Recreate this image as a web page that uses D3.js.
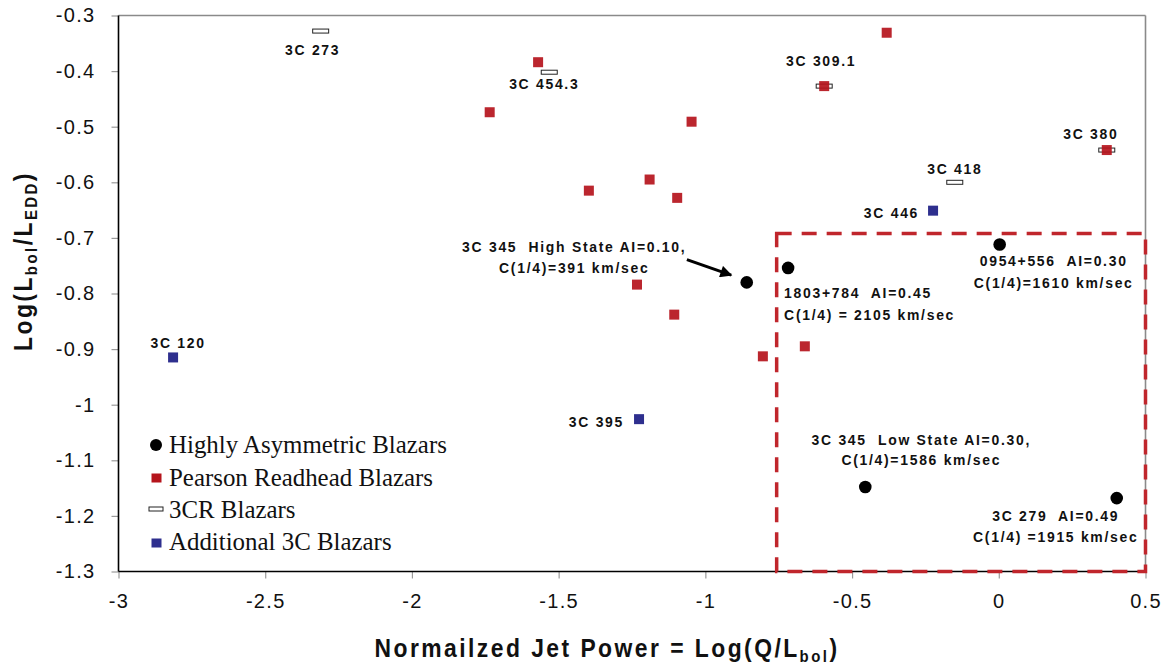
<!DOCTYPE html>
<html>
<head>
<meta charset="utf-8">
<script src="https://cdn.jsdelivr.net/npm/d3@7"></script>
<style>
  body { margin: 0; background: #fff; }
  svg { display: block; }
  text { white-space: pre; }
</style>
</head>
<body>
<svg id="chart" width="1166" height="666"></svg>
<script>
// ---------------- DATA ----------------
const xTicks = [-3, -2.5, -2, -1.5, -1, -0.5, 0, 0.5];
const xTickLabels = ["-3", "-2.5", "-2", "-1.5", "-1", "-0.5", "0", "0.5"];
const yTicks = [-0.3, -0.4, -0.5, -0.6, -0.7, -0.8, -0.9, -1, -1.1, -1.2, -1.3];
const yTickLabels = ["-0.3", "-0.4", "-0.5", "-0.6", "-0.7", "-0.8", "-0.9", "-1", "-1.1", "-1.2", "-1.3"];

// Highly Asymmetric Blazars
const haNames = ["3C 345 High", "1803+784", "0954+556", "3C 345 Low", "3C 279"];
const haX = [-0.859, -0.718, 0.003, -0.455, 0.402];
const haY = [-0.780, -0.754, -0.712, -1.148, -1.168];
const haText = [
  ["3C 345  High State AI=0.10,", "C(1/4)=391 km/sec"],
  ["1803+784  AI=0.45", "C(1/4) = 2105 km/sec"],
  ["0954+556  AI=0.30", "C(1/4)=1610 km/sec"],
  ["3C 345  Low State AI=0.30,", "C(1/4)=1586 km/sec"],
  ["3C 279  AI=0.49", "C(1/4) =1915 km/sec"]
];

// Pearson Readhead Blazars
const prX = [-0.382, -1.570, -1.735, -1.047, -1.397, -1.190, -1.096, -0.595, 0.368, -1.233, -1.106, -0.804, -0.661];
const prY = [-0.331, -0.384, -0.474, -0.491, -0.615, -0.595, -0.628, -0.427, -0.542, -0.784, -0.838, -0.913, -0.895];

// 3CR Blazars
const crNames = ["3C 273", "3C 454.3", "3C 309.1", "3C 380", "3C 418"];
const crX = [-2.311, -1.532, -0.595, 0.368, -0.150];
const crY = [-0.328, -0.402, -0.427, -0.542, -0.600];

// Additional 3C Blazars
const adNames = ["3C 120", "3C 395", "3C 446"];
const adX = [-2.814, -1.226, -0.224];
const adY = [-0.915, -1.026, -0.651];

// Highlighted region (data units)
const boxX = [-0.757, 0.5];
const boxY = [-0.692, -1.3];

// Arrow (data units) pointing at 3C 345 High State
const arrowX = [-1.063, -0.912];
const arrowY = [-0.739, -0.767];

const legendLabels = ["Highly Asymmetric Blazars", "Pearson Readhead Blazars", "3CR Blazars", "Additional 3C Blazars"];

// ---------------- LAYOUT ----------------
const RED = "#b5141c", BLUE = "#2e2f8e", BOXRED = "#c0262c";
const svg = d3.select("#chart");
const x = d3.scaleLinear().domain([-3, 0.5]).range([118.5, 1145.5]);
const y = d3.scaleLinear().domain([-1.3, -0.3]).range([571.5, 15.5]);

const tickFont = "'Liberation Sans', Arial, sans-serif";
const labFont = "'Liberation Sans', Arial, sans-serif";
const NARROW = 0.9;

// axes
const gx = svg.append("g").attr("transform", `translate(0,${y(-1.3)})`)
  .call(d3.axisBottom(x).tickValues(xTicks).tickSize(7).tickSizeOuter(0).tickPadding(15)
    .tickFormat((d, i) => xTickLabels[i]));
const gy = svg.append("g").attr("transform", `translate(${x(-3)},0)`)
  .call(d3.axisLeft(y).tickValues(yTicks).tickSize(7).tickSizeOuter(0).tickPadding(16)
    .tickFormat((d, i) => yTickLabels[i]));
[gx, gy].forEach(g => {
  g.select(".domain").remove();
  g.selectAll(".tick line").attr("stroke", "#9a9a9a").attr("stroke-width", 1.2);
  g.selectAll(".tick text").attr("fill", "#111").style("font-family", tickFont)
    .style("font-size", "20px").style("letter-spacing", "1.3px");
});

// frame
svg.append("line").attr("x1", x(-3)).attr("x2", x(0.5)).attr("y1", y(-0.3)).attr("y2", y(-0.3))
  .attr("stroke", "#8a8a8a").attr("stroke-width", 1.6);
svg.append("line").attr("x1", x(0.5)).attr("x2", x(0.5)).attr("y1", y(-0.3)).attr("y2", y(-1.3))
  .attr("stroke", "#8a8a8a").attr("stroke-width", 1.6);
svg.append("line").attr("x1", x(-3)).attr("x2", x(-3)).attr("y1", y(-0.3)).attr("y2", y(-1.3))
  .attr("stroke", "#000").attr("stroke-width", 1.6);
svg.append("line").attr("x1", x(-3)).attr("x2", x(0.5)).attr("y1", y(-1.3)).attr("y2", y(-1.3))
  .attr("stroke", "#000").attr("stroke-width", 1.6);

// dashed box
svg.append("rect")
  .attr("x", x(boxX[0])).attr("y", y(boxY[0]))
  .attr("width", x(boxX[1]) - x(boxX[0])).attr("height", y(boxY[1]) - y(boxY[0]))
  .attr("fill", "none").attr("stroke", BOXRED).attr("stroke-width", 3.5)
  .attr("stroke-dasharray", "15,10");

// 3CR rects
svg.append("g").selectAll("rect").data(crX).join("rect")
  .attr("x", (d) => x(d) - 8).attr("y", (d, i) => y(crY[i]) - 2)
  .attr("width", 16).attr("height", 4)
  .attr("fill", "#fff").attr("stroke", "#222").attr("stroke-width", 1);

// Pearson Readhead squares
svg.append("g").selectAll("rect").data(prX).join("rect")
  .attr("x", d => x(d) - 5).attr("y", (d, i) => y(prY[i]) - 5)
  .attr("width", 10).attr("height", 10).attr("fill", RED).attr("fill-opacity", 0.92);

// additional 3C squares
svg.append("g").selectAll("rect").data(adX).join("rect")
  .attr("x", d => x(d) - 5).attr("y", (d, i) => y(adY[i]) - 5)
  .attr("width", 10).attr("height", 10).attr("fill", BLUE);

// highly asymmetric circles
svg.append("g").selectAll("circle").data(haX).join("circle")
  .attr("cx", d => x(d)).attr("cy", (d, i) => y(haY[i])).attr("r", 6.3).attr("fill", "#000");

// arrow
svg.append("defs").append("marker").attr("id", "ah").attr("viewBox", "0 0 10 10")
  .attr("refX", 9).attr("refY", 5).attr("markerWidth", 4.5).attr("markerHeight", 4)
  .attr("markerUnits", "strokeWidth").attr("orient", "auto")
  .append("path").attr("d", "M0,0 L10,5 L0,10 z").attr("fill", "#000");
svg.append("line").attr("x1", x(arrowX[0])).attr("y1", y(arrowY[0]))
  .attr("x2", x(arrowX[1])).attr("y2", y(arrowY[1]))
  .attr("stroke", "#000").attr("stroke-width", 3).attr("marker-end", "url(#ah)");

// point labels (pixel offsets relative to points); narrow bold look via horizontal scale
const lblStyle = sel => sel.style("font-family", labFont).style("font-weight", "bold")
  .style("font-size", "15.5px").style("letter-spacing", "1.9px").attr("fill", "#111");
function label(px, py, anchor, lines, lh) {
  const g = svg.append("g").attr("transform", `translate(${px},${py}) scale(${NARROW},1)`);
  const t = g.append("text").attr("text-anchor", anchor).call(lblStyle);
  lines.forEach((line, j) => t.append("tspan").attr("x", 0).attr("y", j * lh).text(line));
}

const crOff = { "3C 273": [-8, 24, "middle"], "3C 454.3": [-5, 17, "middle"], "3C 309.1": [-3, -20, "middle"],
  "3C 380": [-16, -11, "middle"], "3C 418": [0, -8, "middle"] };
crNames.forEach((n, i) => {
  const o = crOff[n];
  label(x(crX[i]) + o[0], y(crY[i]) + o[1], o[2], [n], 0);
});
const adOff = { "3C 120": [5, -9, "middle"], "3C 395": [-15, 8, "end"], "3C 446": [-14, 7, "end"] };
adNames.forEach((n, i) => {
  const o = adOff[n];
  label(x(adX[i]) + o[0], y(adY[i]) + o[1], o[2], [n], 0);
});
const haOff = { "3C 345 High": [-172.5, -30, "middle", 21], "1803+784": [-4, 29.6, "start", 22],
  "0954+556": [54, 21, "middle", 22], "3C 345 Low": [56, -42, "middle", 20], "3C 279": [-61, 23, "middle", 21] };
haNames.forEach((n, i) => {
  const o = haOff[n];
  label(x(haX[i]) + o[0], y(haY[i]) + o[1], o[2], haText[i], o[3]);
});

// legend
const lg = svg.append("g");
const lgBase = [453.3, 485.5, 517.8, 550];
const lgSymY = [445, 478, 509, 543];
lg.append("circle").attr("cx", 156).attr("cy", lgSymY[0]).attr("r", 6).attr("fill", "#000");
lg.append("rect").attr("x", 151.5).attr("y", lgSymY[1] - 4.5).attr("width", 10).attr("height", 9).attr("fill", RED);
lg.append("rect").attr("x", 149).attr("y", lgSymY[2] - 2).attr("width", 14).attr("height", 4)
  .attr("fill", "#fff").attr("stroke", "#222").attr("stroke-width", 1);
lg.append("rect").attr("x", 151.5).attr("y", lgSymY[3] - 4.5).attr("width", 10).attr("height", 9).attr("fill", BLUE);
legendLabels.forEach((l, i) => {
  lg.append("text").attr("x", 169).attr("y", lgBase[i]).text(l)
    .style("font-family", "'Liberation Serif', 'Times New Roman', serif").style("font-size", "24.9px")
    .attr("fill", "#111");
});

// axis titles
const titleStyle = sel => sel.style("font-family", labFont).style("font-weight", "bold")
  .style("font-size", "26px").style("letter-spacing", "2.8px").attr("fill", "#111");
const xt = svg.append("g").attr("transform", "translate(607,657) scale(0.88,1)")
  .append("text").attr("text-anchor", "middle").call(titleStyle);
xt.append("tspan").text("Normailzed Jet Power = Log(Q/L");
xt.append("tspan").text("bol").attr("dy", 5).style("font-size", "17px");
xt.append("tspan").text(")").attr("dy", -5);

const yt = svg.append("g").attr("transform", "translate(32,261) rotate(-90) scale(0.88,1)")
  .append("text").attr("text-anchor", "middle").call(titleStyle);
yt.append("tspan").text("Log(L");
yt.append("tspan").text("bol").attr("dy", 5).style("font-size", "17px");
yt.append("tspan").text("/L").attr("dy", -5);
yt.append("tspan").text("EDD").attr("dy", 5).style("font-size", "17px");
yt.append("tspan").text(")").attr("dy", -5);
</script>
</body>
</html>
